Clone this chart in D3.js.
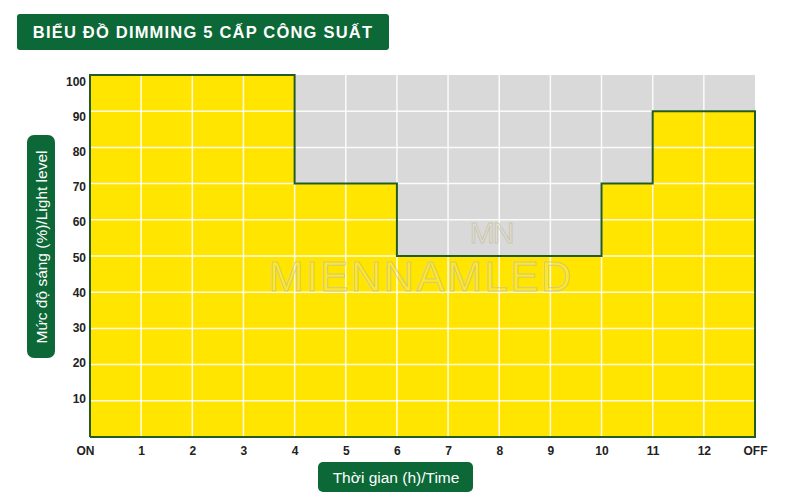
<!DOCTYPE html>
<html><head><meta charset="utf-8">
<script src="https://cdn.jsdelivr.net/npm/d3@7"></script>
<style>html,body{margin:0;padding:0;background:#fff;}svg{display:block;}</style>
</head><body><svg id="c" width="800" height="500"></svg>
<script>
const xLabels = ["ON","1","2","3","4","5","6","7","8","9","10","11","12","OFF"];
const hourIndex = [0,1,2,3,4,5,6,7,8,9,10,11,12,13];
const lightLevel = [100,100,100,100,70,70,50,50,50,50,70,90,90,90];
const yTicks = [10,20,30,40,50,60,70,80,90,100];
const title = "BIỂU ĐỒ DIMMING 5 CẤP CÔNG SUẤT";
const yTitle = "Mức độ sáng (%)/Light level";
const xTitle = "Thời gian (h)/Time";

const svg = d3.select("#c");
const font = "'Liberation Sans', Arial, sans-serif";
const green = "#0c6837";
const x = d3.scaleLinear().domain([0,13]).range([90,755]);
const y = d3.scaleLinear().domain([0,100]).range([437,75]);
const yLab = d3.scaleLinear().domain([10,100]).range([398,81]);

// title box
svg.append("rect").attr("x",17).attr("y",14).attr("width",372).attr("height",36).attr("rx",3).attr("fill",green);
svg.append("text").attr("x",203).attr("y",38).attr("text-anchor","middle").attr("fill","#fff")
  .attr("font-family",font).attr("font-weight","bold").attr("font-size",16.5).attr("letter-spacing",1.2).text(title);

// plot background
svg.append("rect").attr("x",x(0)).attr("y",y(100)).attr("width",x(13)-x(0)).attr("height",y(0)-y(100)).attr("fill","#d9d9d9");

const data = hourIndex.map((h,i)=>({h, v: lightLevel[i]}));
const area = d3.area().x(d=>x(d.h)).y0(y(0)).y1(d=>y(d.v)).curve(d3.curveStepAfter);
svg.append("path").datum(data).attr("d",area).attr("fill","#ffe500");

// grid
const g = svg.append("g");
g.selectAll("line.h").data(yTicks.filter(t=>t<100)).join("line")
  .attr("x1",x(0)).attr("x2",x(13)).attr("y1",d=>y(d)).attr("y2",d=>y(d))
  .attr("stroke","#fff").attr("stroke-width",1.5).attr("opacity",0.9);
g.selectAll("line.v").data(hourIndex.slice(1,13)).join("line")
  .attr("y1",y(0)).attr("y2",y(100)).attr("x1",d=>x(d)).attr("x2",d=>x(d))
  .attr("stroke","#fff").attr("stroke-width",1.5).attr("opacity",0.9);

// watermark
const wm = svg.append("g").attr("fill","#fff").attr("fill-opacity",0.12).attr("stroke","#c8c2a0").attr("stroke-width",1).attr("stroke-opacity",0.8).attr("font-family",font);
wm.append("text").attr("x",421).attr("y",291).attr("text-anchor","middle").attr("font-size",42).attr("letter-spacing",2.5).text("MIENNAMLED");
wm.append("text").attr("x",491).attr("y",243).attr("text-anchor","middle").attr("font-size",30).attr("letter-spacing",-2).text("MN");

// outline
const line = d3.line().x(d=>x(d.h)).y(d=>y(d.v)).curve(d3.curveStepAfter);
const outline = [{h:0,v:0}].concat(data).concat([{h:13,v:0},{h:0,v:0}]);
svg.append("path").datum(outline).attr("d",line).attr("fill","none").attr("stroke","#235c1e").attr("stroke-width",2);

// y tick labels
svg.append("g").selectAll("text").data(yTicks).join("text")
  .attr("x",86).attr("y",d=>yLab(d)+4.5).attr("text-anchor","end")
  .attr("font-family",font).attr("font-weight","bold").attr("font-size",12).attr("fill","#222").text(d=>d);

// x tick labels
const xAxis = d3.axisBottom(x).tickValues(hourIndex).tickFormat((d,i)=>xLabels[i]).tickSize(0).tickPadding(9);
const xa = svg.append("g").attr("transform",`translate(0,${y(0)})`).call(xAxis);
xa.select(".domain").remove();
xa.selectAll("text").attr("font-family",font).attr("font-weight","bold").attr("font-size",12).attr("fill","#222");
xa.selectAll("text").filter((d,i)=>i===0).attr("dx",-5);

// y title box
svg.append("rect").attr("x",27).attr("y",135).attr("width",28).attr("height",223).attr("rx",7).attr("fill",green);
svg.append("text").attr("transform","translate(46.5,247) rotate(-90)").attr("text-anchor","middle")
  .attr("fill","#fff").attr("font-family",font).attr("font-size",15.5).text(yTitle);

// x title box
svg.append("rect").attr("x",318).attr("y",462).attr("width",155).attr("height",30).attr("rx",5).attr("fill",green);
svg.append("text").attr("x",396).attr("y",482.5).attr("text-anchor","middle")
  .attr("fill","#fff").attr("font-family",font).attr("font-size",15.5).text(xTitle);
</script></body></html>
